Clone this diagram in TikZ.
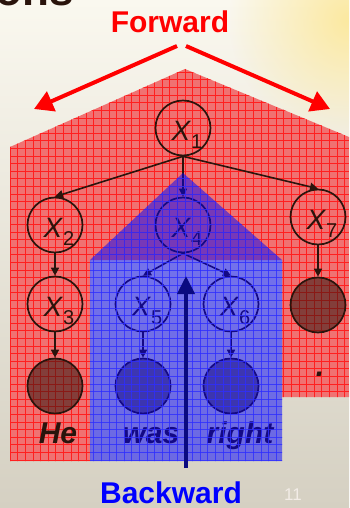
\documentclass[tikz,border=0pt]{standalone}
\usepackage{fontspec}
\setmainfont{Liberation Sans}
\usetikzlibrary{arrows.meta,fadings}
\definecolor{bgtop}{HTML}{FAF8EF}
\definecolor{bgbot}{HTML}{D5D0C2}
\definecolor{glow}{HTML}{FCE9A0}
\definecolor{redfill}{HTML}{F07272}
\definecolor{redgrid}{HTML}{FF2020}
\definecolor{bluegrid}{HTML}{2E2EFF}
\definecolor{treeink}{HTML}{2A140C}
\definecolor{navy}{HTML}{0A0A80}
\definecolor{fwdred}{HTML}{FF0000}
\definecolor{bwdblue}{HTML}{0000FF}
\definecolor{pagenum}{HTML}{F2ECE6}
\tikzfading[name=glowfade, inner color=transparent!0, outer color=transparent!100]
\begin{document}
\begin{tikzpicture}[x=1pt,y=-1pt,
  var/.style={circle, draw=treeink, line width=1.7pt, minimum size=55pt, inner sep=0pt,
    text height=30pt, text depth=6pt, text=treeink,
    font=\fontsize{28}{28}\selectfont},
  obs/.style={circle, draw=treeink, line width=1.7pt, minimum size=55pt, inner sep=0pt,
    fill=treeink, fill opacity=0.55},
  edge/.style={draw=treeink, line width=1.6pt, -{Triangle[length=8pt,width=8pt]}},
  word/.style={font=\fontsize{30}{30}\selectfont\bfseries\itshape, text=treeink, anchor=base, inner sep=0pt},
  bigarrow/.style={line width=4pt},
  title/.style={font=\fontsize{30}{30}\selectfont\bfseries, anchor=base, inner sep=0pt}
]
\newcommand{\xlab}[1]{\hspace*{8pt}\textit{X}\raisebox{-8pt}{\fontsize{20}{20}\selectfont #1}}
\useasboundingbox (0,0) rectangle (349,508);
% background
\shade[top color=bgtop, bottom color=bgbot] (0,0) rectangle (349,508);
\begin{scope}
  \clip (0,0) rectangle (349,508);
  \fill[glow, path fading=glowfade] (349,20) circle (120);
\end{scope}
\node[font=\fontsize{44}{44}\selectfont\bfseries, text=treeink, anchor=base east, inner sep=0pt] (ttl) at (74,6) {ons};

% red region
\def\redpath{(10,147) -- (185,69) -- (349,137) -- (349,397) -- (282,397) -- (282,260) -- (90,260) -- (90,461) -- (10,461) -- cycle}
\fill[redfill] \redpath;
\begin{scope}
  \clip \redpath;
  \foreach \k in {0,...,46} { \draw[redgrid, line width=0.6pt] ({10+7.6*\k},60) -- ({10+7.6*\k},470); }
  \foreach \k in {0,...,54} { \draw[redgrid, line width=0.6pt] (0,{57+7.6*\k}) -- (349,{57+7.6*\k}); }
\end{scope}

% tree
\node[var] (x1) at (183,128) {\xlab{1}};
\node[var] (x2) at (55,225) {\xlab{2}};
\node[var] (x4) at (183,225) {\xlab{4}};
\node[var] (x7) at (318,217) {\xlab{7}};
\node[var] (x3) at (55,304) {\xlab{3}};
\node[var] (x5) at (143,304) {\xlab{5}};
\node[var] (x6) at (231,304) {\xlab{6}};
\node[obs] (o7) at (318,305) {};
\node[obs] (he) at (55,386) {};
\node[obs] (was) at (143,386) {};
\node[obs] (right) at (231,386) {};

\draw[edge] (x1.south) -- (x2.north);
\draw[edge] (x1.south) -- (x4.north);
\draw[edge] (x1.south) -- (x7.north);
\draw[edge] (x2.south) -- (x3.north);
\draw[edge] (x3.south) -- (he.north);
\draw[edge] (x4.south) -- (x5.north);
\draw[edge] (x4.south) -- (x6.north);
\draw[edge] (x5.south) -- (was.north);
\draw[edge] (x6.south) -- (right.north);
\draw[edge] (x7.south) -- (o7.north);

\node[word] (whe) at (58,443) {He};
\node[word] (wwas) at (151,443) {was};
\node[word] (wright) at (240,443) {right};
\node[word] (wdot) at (320,376) {.};

% blue region
\def\bluepath{(90,461) -- (90,260) -- (183,173) -- (282,260) -- (282,461) -- cycle}
\fill[blue, opacity=0.5] \bluepath;
\begin{scope}
  \clip \bluepath;
  \foreach \k in {0,...,46} { \draw[bluegrid, line width=0.6pt, opacity=0.8] ({10+7.6*\k},60) -- ({10+7.6*\k},470); }
  \foreach \k in {0,...,54} { \draw[bluegrid, line width=0.6pt, opacity=0.8] (0,{57+7.6*\k}) -- (349,{57+7.6*\k}); }
\end{scope}

% forward
\node[title, text=fwdred] (fwd) at (170,33) {Forward};
\coordinate (fs1) at (177,46);
\coordinate (fe1) at (34,109);
\coordinate (fs2) at (186,46);
\coordinate (fe2) at (330,109);
\draw[bigarrow, fwdred, -{Triangle[length=19pt,width=21pt]}] (fs1) -- (fe1);
\draw[bigarrow, fwdred, -{Triangle[length=19pt,width=21pt]}] (fs2) -- (fe2);

% backward
\coordinate (bs) at (186,468);
\coordinate (be) at (186,276);
\draw[bigarrow, navy, -{Triangle[length=18pt,width=17pt]}] (bs) -- (be);
\node[title, text=bwdblue] (bwd) at (171,503) {Backward};

\node[font=\fontsize{17}{17}\selectfont, text=pagenum, anchor=base, inner sep=0pt] (pg) at (293,500) {11};
\end{tikzpicture}
\end{document}
